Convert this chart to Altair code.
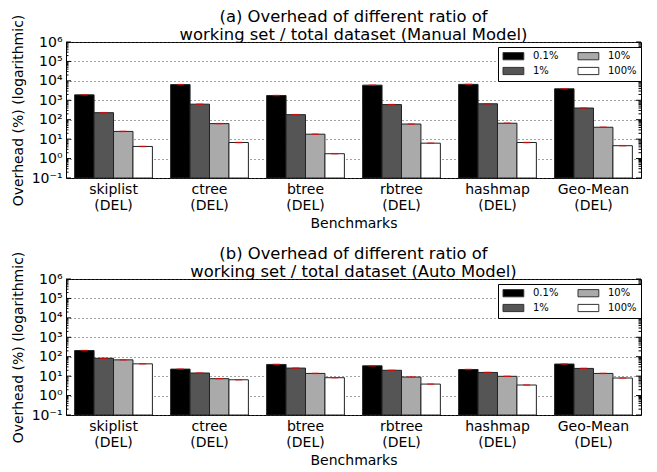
import altair as alt
import pandas as pd

benchmarks = ["skiplist (DEL)", "ctree (DEL)", "btree (DEL)", "rbtree (DEL)", "hashmap (DEL)", "Geo-Mean (DEL)"]
ratios = ["0.1%", "1%", "10%", "100%"]
ratio_colors = ["#000000", "#555555", "#aaaaaa", "#ffffff"]

manual_01 = [1900, 6400, 1760, 6000, 6600, 3900]
manual_1 = [230, 630, 182, 600, 660, 400]
manual_10 = [25, 63, 18, 60, 66, 41]
manual_100 = [4.2, 6.7, 1.78, 6.2, 6.7, 4.6]

auto_01 = [208, 23, 40, 34, 22, 42]
auto_1 = [83, 14.5, 26, 20, 15.5, 25]
auto_10 = [69, 7.4, 13.8, 9, 9.8, 13.8]
auto_100 = [43, 6.5, 8.3, 3.9, 3.5, 8]

ytick_values = [0.1, 1, 10, 100, 1000, 10000, 100000, 1000000]
ytick_labels = ["10⁻¹", "10⁰", "10¹", "10²", "10³", "10⁴", "10⁵", "10⁶"]

title_a = ["(a) Overhead of different ratio of", "working set / total dataset (Manual Model)"]
title_b = ["(b) Overhead of different ratio of", "working set / total dataset (Auto Model)"]

W, H = 575, 136


def make_df(series):
    rows = []
    for r, vals in zip(ratios, series):
        for b, v in zip(benchmarks, vals):
            rows.append({"bench": b, "ratio": r, "value": v})
    return pd.DataFrame(rows)


minor_vals = [m * d for d in ytick_values[:-1] for m in range(2, 10)]
major_df = pd.DataFrame({"value": ytick_values})
minor_df = pd.DataFrame({"value": minor_vals})

label_expr = "[" + ",".join("'" + s + "'" for s in ytick_labels) + "][round(log(datum.value)/LN10)+1]"


def panel(df, title):
    x = alt.X("bench:N", sort=benchmarks,
              scale=alt.Scale(paddingInner=0.19, paddingOuter=0.09),
              axis=alt.Axis(title="Benchmarks", labelExpr="split(datum.label, ' ')",
                            labelAngle=0, ticks=False, domain=False, labelPadding=4,
                            labelLineHeight=16, labelFontSize=14, titleFontSize=14,
                            titlePadding=4, titleFontWeight="normal"))
    xo = alt.XOffset("ratio:N", sort=ratios, scale=alt.Scale(paddingInner=0, paddingOuter=0))
    y = alt.Y("value:Q", scale=alt.Scale(type="log", domain=[0.1, 1e6], nice=False),
              axis=alt.Axis(values=ytick_values, labelExpr=label_expr, grid=True,
                            gridDash=[1, 3], gridColor="#444", gridWidth=1,
                            ticks=False, domain=False, labelFontSize=14, labelPadding=4,
                            title="Overhead (%) (logarithmic)", titleFontSize=14,
                            titleFontWeight="normal", titlePadding=6))
    bars = alt.Chart(df).mark_bar(stroke="#222222", strokeWidth=1).encode(
        x=x, xOffset=xo, y=y, y2=alt.datum(0.1),
        color=alt.Color("ratio:N",
                        scale=alt.Scale(domain=ratios, range=ratio_colors),
                        legend=alt.Legend(title=None, orient="none", legendX=432, legendY=5,
                                          columns=2, direction="vertical",
                                          symbolType="M-1,-0.9H4.2V0.9H-1Z",
                                          symbolSize=64, symbolStrokeColor="#333333",
                                          symbolStrokeWidth=1, symbolOpacity=1,
                                          labelFontSize=10, labelOffset=21,
                                          columnPadding=17, rowPadding=3, padding=4,
                                          strokeColor="black", fillColor="white",
                                          cornerRadius=0)))
    caps = alt.Chart(df).mark_tick(color="#ff0000", thickness=1.5, size=7).encode(
        x=x, xOffset=xo, y=y)
    maj_l = alt.Chart(major_df).mark_rule(color="black").encode(
        y=y, x=alt.value(0), x2=alt.value(5))
    maj_r = alt.Chart(major_df).mark_rule(color="black").encode(
        y=y, x=alt.value(W - 5), x2=alt.value(W))
    min_l = alt.Chart(minor_df).mark_rule(color="black").encode(
        y=y, x=alt.value(0), x2=alt.value(2.5))
    min_r = alt.Chart(minor_df).mark_rule(color="black").encode(
        y=y, x=alt.value(W - 2.5), x2=alt.value(W))
    return alt.layer(bars, caps, maj_l, maj_r, min_l, min_r).properties(
        width=W, height=H,
        title=alt.TitleParams(title, fontSize=16.4, fontWeight="normal", lineHeight=18.5,
                              offset=-29.5, anchor="middle", frame="group"))


df_a = make_df([manual_01, manual_1, manual_10, manual_100])
df_b = make_df([auto_01, auto_1, auto_10, auto_100])

chart = alt.vconcat(panel(df_a, title_a), panel(df_b, title_b), spacing=14).resolve_legend(
    color="independent"
).properties(
    padding={"left": 2, "top": 0, "right": 5, "bottom": 0}
).configure(font="DejaVu Sans").configure_view(
    stroke="black", strokeWidth=1
).configure_axis(labelColor="black", titleColor="black")

chart.save("out.html", embed_options={"renderer": "svg", "actions": False})
